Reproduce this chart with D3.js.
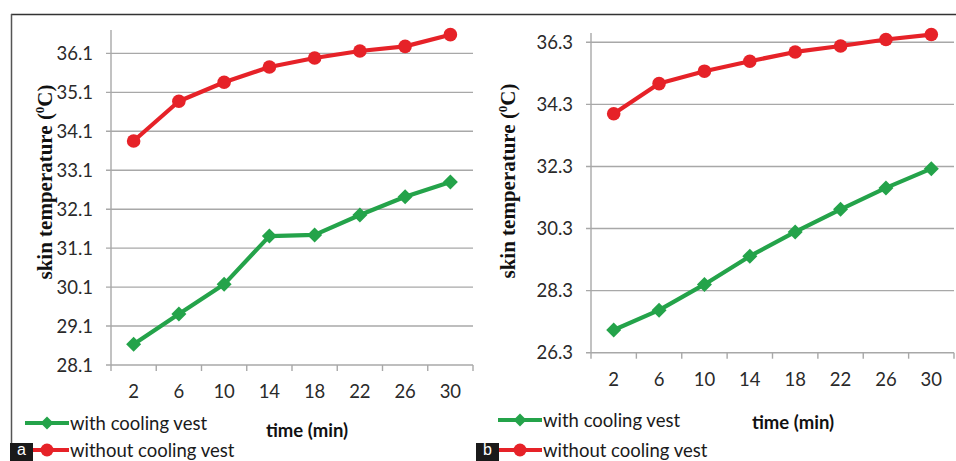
<!DOCTYPE html>
<html>
<head>
<meta charset="utf-8">
<script src="https://cdn.jsdelivr.net/npm/d3@7"></script>
<style>
  body { margin: 0; background: #fff; }
  svg { display: block; }
</style>
</head>
<body>
<div id="chart"></div>
<script>
// time points (min), shared by both panels
const times = ["2", "6", "10", "14", "18", "22", "26", "30"];

// panel a
const aWithVest = [28.63, 29.41, 30.17, 31.41, 31.44, 31.95, 32.42, 32.80];
const aWithoutVest = [33.85, 34.87, 35.36, 35.75, 35.98, 36.16, 36.28, 36.58];
const aTicks = [28.1, 29.1, 30.1, 31.1, 32.1, 33.1, 34.1, 35.1, 36.1];

// panel b
const bWithVest = [27.03, 27.67, 28.50, 29.41, 30.19, 30.92, 31.61, 32.23];
const bWithoutVest = [34.00, 34.97, 35.37, 35.69, 35.99, 36.18, 36.39, 36.55];
const bTicks = [26.3, 28.3, 30.3, 32.3, 34.3, 36.3];

const legendNames = ["with cooling vest", "without cooling vest"];

const green = "#24a34a";
const red = "#e62228";
const gridColor = "#a8a8a8";
const textFont = "Lato, 'Open Sans', sans-serif";

const W = 956, H = 461;

let svg = d3.select("#chart")
    .append("svg")
    .attr("width", W)
    .attr("height", H)
    .attr("viewBox", "0 0 " + W + " " + H);

// outer frame (top + left)
svg.append("line").attr("x1", 11).attr("x2", W).attr("y1", 14.5).attr("y2", 14.5)
    .attr("stroke", "#333").attr("stroke-width", 1.5);
svg.append("line").attr("x1", 11.5).attr("x2", 11.5).attr("y1", 14).attr("y2", H)
    .attr("stroke", "#555").attr("stroke-width", 1.5);

function diamond(sel, half) {
    sel.attr("d", d3.symbol().type(d3.symbolSquare).size(2 * half * half)());
}

function drawPanel(cfg) {
    let g = svg.append("g");

    let x = d3.scaleBand().domain(times).range([cfg.x0, cfg.x1]);
    let y = d3.scaleLinear().domain(cfg.yDomain).range([cfg.yBottom, cfg.yTop]);

    // gridlines with small outside ticks
    g.append("g").selectAll("line")
        .data(cfg.ticks)
        .enter()
        .append("line")
        .attr("x1", cfg.x0 - 5)
        .attr("x2", cfg.x1)
        .attr("y1", d => y(d))
        .attr("y2", d => y(d))
        .attr("stroke", gridColor)
        .attr("stroke-width", 1.4);

    // y axis line
    g.append("line")
        .attr("x1", cfg.x0).attr("x2", cfg.x0)
        .attr("y1", cfg.yTop).attr("y2", cfg.yBottom)
        .attr("stroke", gridColor).attr("stroke-width", 1.4);

    // x tick marks at band edges
    let edges = times.map(t => x(t)).concat([cfg.x1]);
    g.append("g").selectAll("line")
        .data(edges)
        .enter()
        .append("line")
        .attr("x1", d => d).attr("x2", d => d)
        .attr("y1", cfg.yBottom).attr("y2", cfg.yBottom + 6)
        .attr("stroke", gridColor).attr("stroke-width", 1.4);

    // y tick labels
    g.append("g").selectAll("text")
        .data(cfg.ticks)
        .enter()
        .append("text")
        .attr("x", cfg.x0 - 18)
        .attr("y", d => y(d) + 6.5)
        .attr("text-anchor", "end")
        .style("font-family", textFont)
        .style("font-size", "18.5px")
        .attr("fill", "#2a2a2a")
        .text(d => d.toFixed(1));

    // x tick labels
    g.append("g").selectAll("text")
        .data(times)
        .enter()
        .append("text")
        .attr("x", d => x(d) + x.bandwidth() / 2)
        .attr("y", cfg.yBottom + 33)
        .attr("text-anchor", "middle")
        .style("font-family", textFont)
        .style("font-size", "18.5px")
        .attr("fill", "#2a2a2a")
        .text(d => d);

    // y axis title
    let yt = g.append("text")
        .attr("transform", "translate(" + cfg.yTitleX + "," + cfg.yTitleY + ") rotate(-90)")
        .attr("text-anchor", "middle")
        .style("font-family", "'Liberation Serif', 'Times New Roman', serif")
        .style("font-weight", "bold")
        .style("font-size", "21px")
        .attr("fill", "#111");
    yt.append("tspan").text("skin temperature (");
    yt.append("tspan").attr("dy", -8).style("font-size", "13px").text("0");
    yt.append("tspan").attr("dy", 8).text("C)");

    // x axis title
    g.append("text")
        .attr("x", cfg.xTitleX)
        .attr("y", cfg.xTitleY)
        .attr("text-anchor", "middle")
        .style("font-family", textFont)
        .style("font-weight", "bold")
        .style("font-size", "18.5px")
        .attr("fill", "#111")
        .text("time (min)");

    let cx = d => x(d) + x.bandwidth() / 2;
    let line = d3.line().x((d, i) => cx(times[i])).y(d => y(d));

    // without vest (red, circles)
    g.append("path")
        .datum(cfg.without)
        .attr("d", line)
        .attr("fill", "none")
        .attr("stroke", red)
        .attr("stroke-width", 4.2)
        .attr("stroke-linejoin", "round");
    g.append("g").selectAll("circle")
        .data(cfg.without)
        .enter()
        .append("circle")
        .attr("cx", (d, i) => cx(times[i]))
        .attr("cy", d => y(d))
        .attr("r", 6.8)
        .attr("fill", red);

    // with vest (green, diamonds)
    g.append("path")
        .datum(cfg.with)
        .attr("d", line)
        .attr("fill", "none")
        .attr("stroke", green)
        .attr("stroke-width", 4.2)
        .attr("stroke-linejoin", "round");
    g.append("g").selectAll("path")
        .data(cfg.with)
        .enter()
        .append("path")
        .attr("transform", (d, i) => "translate(" + cx(times[i]) + "," + y(d) + ") rotate(45)")
        .call(diamond, 7.5)
        .attr("fill", green);

    // legend
    let leg = g.append("g");
    [0, 1].forEach(function (k) {
        let ly = cfg.legY[k];
        let col = k === 0 ? green : red;
        leg.append("line")
            .attr("x1", cfg.legX).attr("x2", cfg.legX + 44)
            .attr("y1", ly).attr("y2", ly)
            .attr("stroke", col).attr("stroke-width", 4.2);
        if (k === 0) {
            leg.append("path")
                .attr("transform", "translate(" + (cfg.legX + 22) + "," + ly + ") rotate(45)")
                .call(diamond, 6.5)
                .attr("fill", col);
        } else {
            leg.append("circle")
                .attr("cx", cfg.legX + 22).attr("cy", ly).attr("r", 6.5)
                .attr("fill", col);
        }
        leg.append("text")
            .attr("x", cfg.legX + 45)
            .attr("y", ly + 6.5)
            .style("font-family", textFont)
            .style("font-size", "18.5px")
            .attr("fill", "#1a1a1a")
            .text(legendNames[k]);
    });

    // panel letter
    g.append("rect")
        .attr("x", cfg.boxX).attr("y", 443)
        .attr("width", 23).attr("height", H - 443)
        .attr("fill", "#1a1a1a");
    g.append("text")
        .attr("x", cfg.boxX + 11.5)
        .attr("y", 455)
        .attr("text-anchor", "middle")
        .style("font-family", "'Liberation Sans', Arial, sans-serif")
        .style("font-size", "16px")
        .attr("fill", "#fff")
        .text(cfg.letter);
}

drawPanel({
    x0: 111, x1: 473, yBottom: 365, yTop: 30, yDomain: [28.1, 36.7],
    ticks: aTicks, with: aWithVest, without: aWithoutVest,
    yTitleX: 52, yTitleY: 182, xTitleX: 307, xTitleY: 437,
    legX: 25, legY: [423, 450], boxX: 10, letter: "a"
});

drawPanel({
    x0: 591, x1: 954, yBottom: 352.7, yTop: 33, yDomain: [26.3, 36.6],
    ticks: bTicks, with: bWithVest, without: bWithoutVest,
    yTitleX: 515, yTitleY: 181, xTitleX: 793, xTitleY: 429,
    legX: 498, legY: [420, 450], boxX: 476, letter: "b"
});
</script>
</body>
</html>
